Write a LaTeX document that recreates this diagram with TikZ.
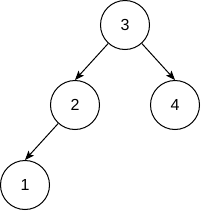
\documentclass[tikz,border=0pt]{standalone}
\usepackage{fontspec}
\setmainfont{Liberation Sans}
\usepackage{xcolor}
\usetikzlibrary{arrows.meta}
\definecolor{ink}{HTML}{000000}

\tikzset{
  treenode/.style={circle, draw=ink, line width=0.75pt, minimum size=36.75pt,
                   inner sep=0pt, font=\fontsize{12}{14}\selectfont},
  treeedge/.style={draw=ink, line width=0.75pt, -{Stealth[length=7pt, width=5.5pt, inset=1.5pt]}}
}

\begin{document}
\begin{tikzpicture}[x=0.75pt, y=-0.75pt]
\useasboundingbox (0,0) rectangle (201,211);
\node[treenode] (n3) at (125,25) {3};
\node[treenode] (n2) at (75,105) {2};
\node[treenode] (n4) at (175,105) {4};
\node[treenode] (n1) at (25,185) {1};
% edges
\draw[treeedge] (n3) -- (n2.north);
\draw[treeedge] (n3) -- (n4.north);
\draw[treeedge] (n2) -- (n1.north);
\end{tikzpicture}
\end{document}
